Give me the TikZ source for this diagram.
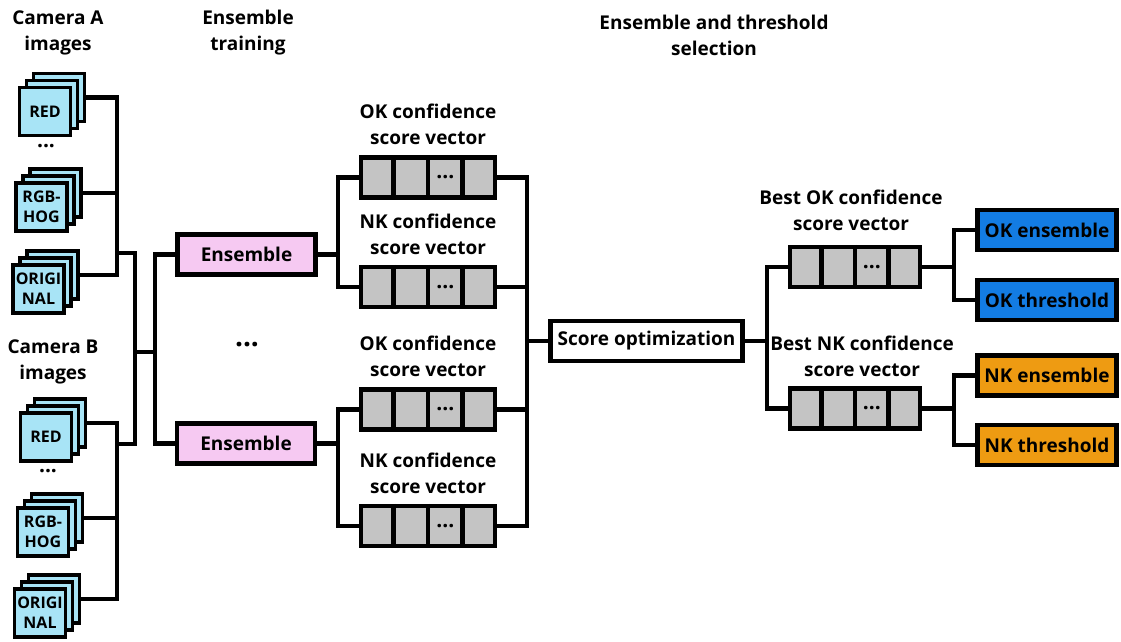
\documentclass[tikz,border=0pt]{standalone}
\usepackage{fontspec}
\setmainfont{Open Sans}
\usetikzlibrary{calc,positioning}

\definecolor{imgblue}{HTML}{A8E4F6}
\definecolor{enspink}{HTML}{F6C9F2}
\definecolor{vecgray}{HTML}{C4C4C4}
\definecolor{okblue}{HTML}{137CE3}
\definecolor{nkorange}{HTML}{EE9B12}

\tikzset{
  wire/.style={line width=4.5pt},
  sheet/.style={draw, line width=3.5pt, fill=imgblue, minimum width=51, minimum height=48,
    inner sep=0pt, align=center, font=\fontsize{16}{20}\selectfont\bfseries},
  box/.style={draw, line width=4.5pt, minimum height=40, inner sep=2pt,
    font=\fontsize{19}{23}\selectfont\bfseries},
  vec/.style={draw, line width=4.5pt, fill=vecgray, minimum height=40, inner sep=0pt},
  lbl/.style={align=center, font=\fontsize{19}{26}\selectfont\bfseries},
  dots/.style={font=\fontsize{21}{21}\selectfont\bfseries}
}

% stack of three image sheets: name, centre of front sheet, text
\newcommand{\imgstack}[3]{%
  \node[sheet] (#1) at ($(#2)+(14,-14)$) {};
  \node[sheet] (#1m) at ($(#2)+(7,-7)$) {};
  \node[sheet] (#1f) at (#2) {#3};
}
% score vector with four cells: name, centre, width
\newcommand{\scorevec}[3]{%
  \node[vec, minimum width=#3] (#1) at (#2) {};
  \foreach \i in {1,2,3}
    \draw[line width=4.5pt] ($(#1.north west)!\i/4!(#1.north east)$) -- ($(#1.south west)!\i/4!(#1.south east)$);
  \node[dots] (#1d) at ($(#1.west)!0.625!(#1.east)$) {...};
}

\begin{document}
\begin{tikzpicture}[x=1pt, y=-1pt]
\useasboundingbox (0,0) rectangle (1121,642);

% titles
\node[lbl] (camA) at (58,33) {Camera A\\images};
\node[lbl] (train) at (248,33) {Ensemble\\training};
\node[lbl] (select) at (714,35) {Ensemble and threshold\\selection};
\node[lbl] (camB) at (53,362) {Camera B\\images};

% camera A
\imgstack{redA}{45,111.5}{RED}
\node[dots] (dotsA) at (46,146) {...};
\imgstack{rgbA}{41.5,207}{RGB-\\HOG}
\imgstack{origA}{38.5,289}{ORIGI\\NAL}

% camera B
\imgstack{redB}{46,437}{RED}
\node[dots] (dotsB) at (48,471) {...};
\imgstack{rgbB}{43,532}{RGB-\\HOG}
\imgstack{origB}{40,613}{ORIGI\\NAL}

% ensembles
\node[box, fill=enspink, minimum width=138] (ens1) at (246.5,254.5) {Ensemble};
\node[box, fill=enspink, minimum width=138] (ens2) at (246,443.5) {Ensemble};
\node[font=\fontsize{28}{28}\selectfont\bfseries] (ensdots) at (247,345) {...};

% score vectors
\scorevec{ok1}{428,177.5}{134}
\scorevec{nk1}{428,287}{134}
\scorevec{ok2}{428,409.5}{134}
\scorevec{nk2}{428,526}{134}
\node[lbl, above=7pt of ok1] (ok1l) {OK confidence\\score vector};
\node[lbl, above=7pt of nk1] (nk1l) {NK confidence\\score vector};
\node[lbl, above=7pt of ok2] (ok2l) {OK confidence\\score vector};
\node[lbl, above=7pt of nk2] (nk2l) {NK confidence\\score vector};

\node[box, minimum width=192] (opt) at (646.5,341) {Score optimization};

\scorevec{bok}{855,267}{130}
\scorevec{bnk}{855,408.5}{130}
\node[lbl] (bokl) at (851,210) {Best OK confidence\\score vector};
\node[lbl] (bnkl) at (862,356) {Best NK confidence\\score vector};

% results
\node[box, fill=okblue, minimum width=139] (okens) at (1047,230) {OK ensemble};
\node[box, fill=okblue, minimum width=139] (okthr) at (1047,300) {OK threshold};
\node[box, fill=nkorange, minimum width=139] (nkens) at (1047,375.5) {NK ensemble};
\node[box, fill=nkorange, minimum width=139] (nkthr) at (1047,445) {NK threshold};

% bus coordinates
\coordinate (xA) at (117,0);
\coordinate (jA) at (117,253);
\coordinate (jB) at (117,444);
\coordinate (jAB) at (135,352);
\coordinate (jE) at (155,352);
\coordinate (xL) at (338,0);
\coordinate (xR) at (527,0);
\coordinate (xS) at (767,0);
\coordinate (xO) at (954,0);

% connectors
\draw[wire] (redA.east) -| (origA.east -| xA) -- (origA.east);
\draw[wire] (rgbA.east) -- (rgbA.east -| xA);
\draw[wire] (redB.east) -| (origB.east -| xA) -- (origB.east);
\draw[wire] (rgbB.east) -- (rgbB.east -| xA);
\draw[wire] (jA) -| (jAB) |- (jB);
\draw[wire] (jAB) -- (jE);
\draw[wire] (ens1.west) -| (jE) |- (ens2.west);

\draw[wire] (ok1.west) -| (nk1.west -| xL) -- (nk1.west);
\draw[wire] (ens1.east) -- (ens1.east -| xL);
\draw[wire] (ok2.west) -| (nk2.west -| xL) -- (nk2.west);
\draw[wire] (ens2.east) -- (ens2.east -| xL);

\draw[wire] (ok1.east) -| (nk2.east -| xR) -- (nk2.east);
\draw[wire] (nk1.east) -- (nk1.east -| xR);
\draw[wire] (ok2.east) -- (ok2.east -| xR);
\draw[wire] (opt.west) -- (opt.west -| xR);

\draw[wire] (bok.west) -| (bnk.west -| xS) -- (bnk.west);
\draw[wire] (opt.east) -- (opt.east -| xS);

\draw[wire] (okens.west) -| (okthr.west -| xO) -- (okthr.west);
\draw[wire] (bok.east) -- (bok.east -| xO);
\draw[wire] (nkens.west) -| (nkthr.west -| xO) -- (nkthr.west);
\draw[wire] (bnk.east) -- (bnk.east -| xO);
\end{tikzpicture}
\end{document}
